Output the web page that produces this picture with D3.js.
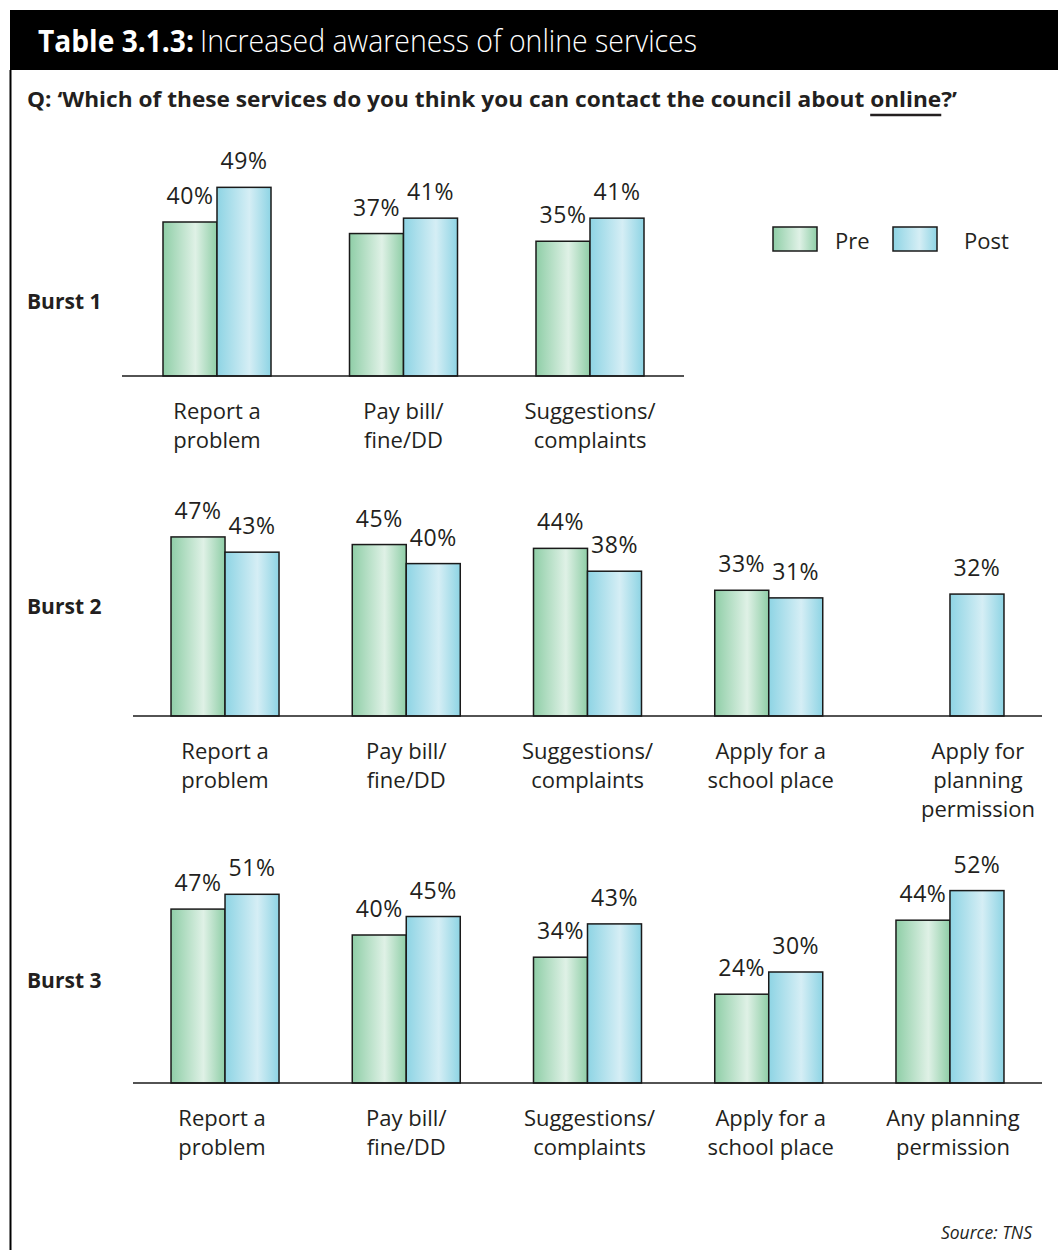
<!DOCTYPE html>
<html>
<head>
<meta charset="utf-8">
<script src="https://cdn.jsdelivr.net/npm/d3@7"></script>
<style>
  html, body { margin: 0; padding: 0; background: #fff; }
  svg { display: block; }
</style>
</head>
<body>
<svg id="chart" width="1058" height="1250"></svg>
<script>
// ---------- DATA ----------
const titleBold = "Table 3.1.3:";
const titleRest = "Increased awareness of online services";
const questionStart = "Q: \u2018Which of these services do you think you can contact the council about ";
const questionUnderlined = "online";
const questionEnd = "?\u2019";
const sourceText = "Source: TNS";

const seriesNames = ["Pre", "Post"];
const burstNames = ["Burst 1", "Burst 2", "Burst 3"];

const categories1 = [["Report a", "problem"], ["Pay bill/", "fine/DD"], ["Suggestions/", "complaints"]];
const pre1 = [40, 37, 35];
const post1 = [49, 41, 41];

const categories2 = [["Report a", "problem"], ["Pay bill/", "fine/DD"], ["Suggestions/", "complaints"],
  ["Apply for a", "school place"], ["Apply for", "planning", "permission"]];
const pre2 = [47, 45, 44, 33, null];
const post2 = [43, 40, 38, 31, 32];

const categories3 = [["Report a", "problem"], ["Pay bill/", "fine/DD"], ["Suggestions/", "complaints"],
  ["Apply for a", "school place"], ["Any planning", "permission"]];
const pre3 = [47, 40, 34, 24, 44];
const post3 = [51, 45, 43, 30, 52];

// ---------- LAYOUT ----------
const svg = d3.select("#chart");
const FONT = "'Open Sans', 'Noto Sans', sans-serif";
const INK = "#231f20";

const defs = svg.append("defs");
function grad(id, edge, mid) {
  const g = defs.append("linearGradient").attr("id", id)
    .attr("x1", "0").attr("x2", "1").attr("y1", "0").attr("y2", "0");
  g.append("stop").attr("offset", "0").attr("stop-color", edge);
  g.append("stop").attr("offset", "0.6").attr("stop-color", mid);
  g.append("stop").attr("offset", "1").attr("stop-color", edge);
}
grad("gPre", "#8fcea7", "#dff1e6");
grad("gPost", "#8ed4e4", "#d5eef5");
const fills = { Pre: "url(#gPre)", Post: "url(#gPost)" };

// frame
svg.append("rect").attr("x", 10).attr("y", 10).attr("width", 1048).attr("height", 60).attr("fill", "#000");
svg.append("line").attr("x1", 10.5).attr("x2", 10.5).attr("y1", 70).attr("y2", 1250)
  .attr("stroke", "#000").attr("stroke-width", 2);

// title
svg.append("text").attr("x", 38).attr("y", 52).attr("fill", "#fff")
  .attr("font-family", FONT).attr("font-weight", 700).attr("font-size", 31)
  .attr("textLength", 156).attr("lengthAdjust", "spacingAndGlyphs").text(titleBold);
svg.append("text").attr("x", 200).attr("y", 52).attr("fill", "#fff")
  .attr("font-family", FONT).attr("font-weight", 300).attr("font-size", 31)
  .attr("textLength", 497).attr("lengthAdjust", "spacingAndGlyphs").text(titleRest);

// question
const q = svg.append("text").attr("x", 27).attr("y", 107).attr("fill", INK)
  .attr("font-family", FONT).attr("font-weight", 700).attr("font-size", 21)
  .attr("textLength", 930).attr("lengthAdjust", "spacingAndGlyphs");
q.append("tspan").text(questionStart);
q.append("tspan").text(questionUnderlined);
q.append("tspan").text(questionEnd);
{
  const n = q.node();
  const i0 = questionStart.length;
  const i1 = i0 + questionUnderlined.length - 1;
  const xs = n.getStartPositionOfChar(i0).x;
  const xe = n.getEndPositionOfChar(i1).x;
  svg.append("line").attr("x1", xs).attr("x2", xe).attr("y1", 115).attr("y2", 115)
    .attr("stroke", INK).attr("stroke-width", 2.5);
}

// legend
const legend = svg.append("g");
const legX = d3.scaleOrdinal().domain(seriesNames).range([773, 893]);
seriesNames.forEach(s => {
  legend.append("rect").attr("x", legX(s)).attr("y", 227).attr("width", 44).attr("height", 24)
    .attr("fill", fills[s]).attr("stroke", "#1a1a1a").attr("stroke-width", 1.5);
  legend.append("text").attr("x", legX(s) + (s === "Pre" ? 62 : 71)).attr("y", 249)
    .attr("font-family", FONT).attr("font-size", 22).attr("fill", INK).text(s);
});

// panels
const panels = [
  { name: burstNames[0], cats: categories1, pre: pre1, post: post1, base: 376, axis: [122, 684],
    band: [123.75, 683.25], h: 385, burstY: 309, labShift: [0, 0, 0] },
  { name: burstNames[1], cats: categories2, pre: pre2, post: post2, base: 716, axis: [133, 1042],
    band: [134.4, 1040.6], h: 381, burstY: 614, labShift: [0, 0, 0, 2, 28] },
  { name: burstNames[2], cats: categories3, pre: pre3, post: post3, base: 1083, axis: [133, 1042],
    band: [134.4, 1040.6], h: 370, burstY: 988, labShift: [-3, 0, 2, 2, 3] }
];

panels.forEach(p => {
  const g = svg.append("g");
  const keys = p.cats.map(c => c.join(" "));
  const x0 = d3.scaleBand().domain(keys).range(p.band).padding(0);
  const y = d3.scaleLinear().domain([0, 100]).range([p.base, p.base - p.h]);
  const barW = 54;
  const x1 = d3.scaleBand().domain(seriesNames).range([-barW, barW]).padding(0);

  g.append("text").attr("x", 27).attr("y", p.burstY).attr("font-family", FONT)
    .attr("font-weight", 700).attr("font-size", 21).attr("fill", INK).text(p.name);

  const rows = [];
  keys.forEach((k, i) => {
    rows.push({ k, s: "Pre", v: p.pre[i] });
    rows.push({ k, s: "Post", v: p.post[i] });
  });
  const valid = rows.filter(r => r.v != null);

  g.selectAll("rect.bar").data(valid).join("rect").attr("class", "bar")
    .attr("x", d => x0(d.k) + x0.bandwidth() / 2 + x1(d.s))
    .attr("width", x1.bandwidth())
    .attr("y", d => y(d.v))
    .attr("height", d => y(0) - y(d.v))
    .attr("fill", d => fills[d.s])
    .attr("stroke", "#1a1a1a").attr("stroke-width", 1.5);

  g.selectAll("text.val").data(valid).join("text").attr("class", "val")
    .attr("x", d => x0(d.k) + x0.bandwidth() / 2 + x1(d.s) + x1.bandwidth() / 2)
    .attr("y", d => y(d.v) - 18)
    .attr("text-anchor", "middle").attr("font-family", FONT).attr("font-size", 23)
    .attr("letter-spacing", 0.5)
    .attr("fill", INK).text(d => d.v + "%");

  g.append("line").attr("x1", p.axis[0]).attr("x2", p.axis[1])
    .attr("y1", p.base).attr("y2", p.base).attr("stroke", "#1a1a1a").attr("stroke-width", 1.5);

  p.cats.forEach((lines, i) => {
    const t = g.append("text").attr("text-anchor", "middle").attr("font-family", FONT)
      .attr("font-size", 22).attr("fill", INK);
    lines.forEach((ln, j) => {
      t.append("tspan").attr("x", x0(keys[i]) + x0.bandwidth() / 2 + p.labShift[i])
        .attr("y", p.base + 43 + j * 29).text(ln);
    });
  });
});

// source
svg.append("text").attr("x", 1032).attr("y", 1239).attr("text-anchor", "end")
  .attr("font-family", FONT).attr("font-style", "italic").attr("font-size", 17.5)
  .attr("fill", INK).text(sourceText);
</script>
</body>
</html>
